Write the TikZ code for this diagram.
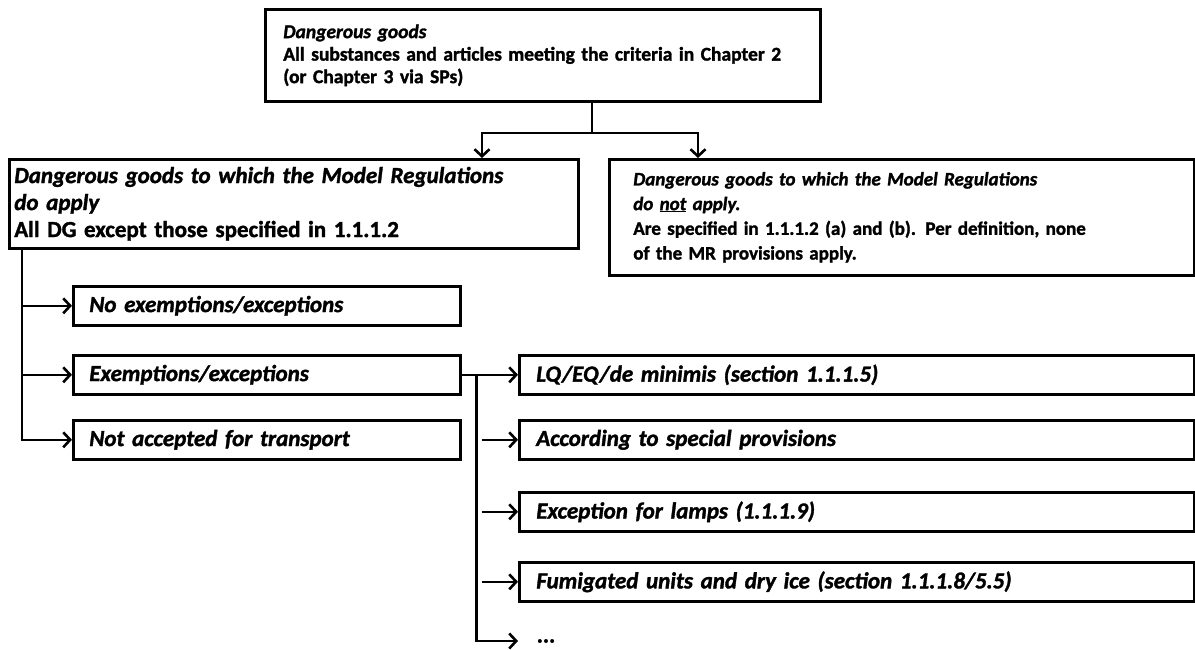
\documentclass[tikz,border=0pt]{standalone}
\usepackage{fontspec}
\setmainfont{Carlito}[BoldFeatures={FakeBold=1.5},BoldItalicFeatures={FakeBold=1.5}]
\usetikzlibrary{arrows.meta}
\tikzset{
  box/.style={draw, line width=2.6pt, anchor=north west, align=left, inner ysep=0pt},
  topfont/.style={font=\fontsize{19.5}{22.5}\selectfont\bfseries},
  bigfont/.style={font=\fontsize{23}{27}\selectfont\bfseries},
  midfont/.style={font=\fontsize{19}{24.7}\selectfont\bfseries},
  small/.style={box, bigfont, inner xsep=16pt, minimum height=39pt},
  link/.style={line width=2.6pt},
  arr/.style={line width=2.6pt, -{Straight Barb[length=7pt,width=15pt]}},
}
\newcommand{\hd}[1]{\textit{#1}}
\begin{document}
\begin{tikzpicture}[x=1pt,y=-1pt]
 \useasboundingbox (0,0) rectangle (1195,650);
 % top level
 \node[box, topfont, inner xsep=18pt, text width=519pt, minimum height=92pt] (dg) at (264,8)
  {\hd{Dangerous goods}\\All substances and articles meeting the criteria in Chapter 2\\(or Chapter 3 via SPs)};
 % second level
 \node[box, bigfont, inner xsep=5pt, text width=559pt, minimum height=89pt] (dga) at (8,158)
  {\hd{Dangerous goods to which the Model Regulations}\\\hd{do apply}\\All DG except those specified in 1.1.1.2};
 \node[box, midfont, inner xsep=24pt, text width=537pt, minimum height=116pt] (dgn) at (608,158)
  {\hd{Dangerous goods to which the Model Regulations}\\\hd{do \underline{not} apply.}\\Are specified in 1.1.1.2 (a) and (b). Per definition, none\\of the MR provisions apply.};
 % left column
 \node[small, text width=355pt] (noex) at (72,285) {\hd{No exemptions/exceptions}};
 \node[small, text width=355pt] (exex) at (72,354) {\hd{Exemptions/exceptions}};
 \node[small, text width=355pt] (nat) at (72,419) {\hd{Not accepted for transport}};
 % right column
 \node[small, inner xsep=17pt, text width=641pt] (lq) at (518,354) {\hd{LQ/EQ/de minimis (section 1.1.1.5)}};
 \node[small, inner xsep=17pt, text width=641pt] (asp) at (518,419) {\hd{According to special provisions}};
 \node[small, inner xsep=17pt, text width=641pt] (lamp) at (518,491) {\hd{Exception for lamps (1.1.1.9)}};
 \node[small, inner xsep=17pt, text width=641pt] (fum) at (518,561) {\hd{Fumigated units and dry ice (section 1.1.1.8/5.5)}};
 \node[bigfont, anchor=west, inner sep=0pt] (etc) at (537,641) {\hd{...}};
 % connectors
 \coordinate (split) at (592,133);
 \coordinate (toL) at (482,133);
 \coordinate (toR) at (698,133);
 \draw[link] (dg.south -| split) -- (split);
 \draw[arr] (split) -- (toL) -- (toL |- dga.north);
 \draw[arr] (split) -- (toR) -- (toR |- dgn.north);
 \path (dga.south west) ++(14,0) coordinate (lt);
 \draw[arr] (lt |- noex.west) -- (noex.west);
 \draw[arr] (lt |- exex.west) -- (exex.west);
 \draw[arr] (lt) |- (nat.west);
 \path (exex.east) ++(15,0) coordinate (rt);
 \path (rt) ++(5,0) coordinate (rtx);
 \draw[arr] (exex.east) -- (lq.west);
 \draw[arr] (rtx |- asp.west) -- (asp.west);
 \draw[arr] (rtx |- lamp.west) -- (lamp.west);
 \draw[arr] (rtx |- fum.west) -- (fum.west);
 \draw[arr, shorten >=19pt] (rt) |- (etc.west);
\end{tikzpicture}
\end{document}
